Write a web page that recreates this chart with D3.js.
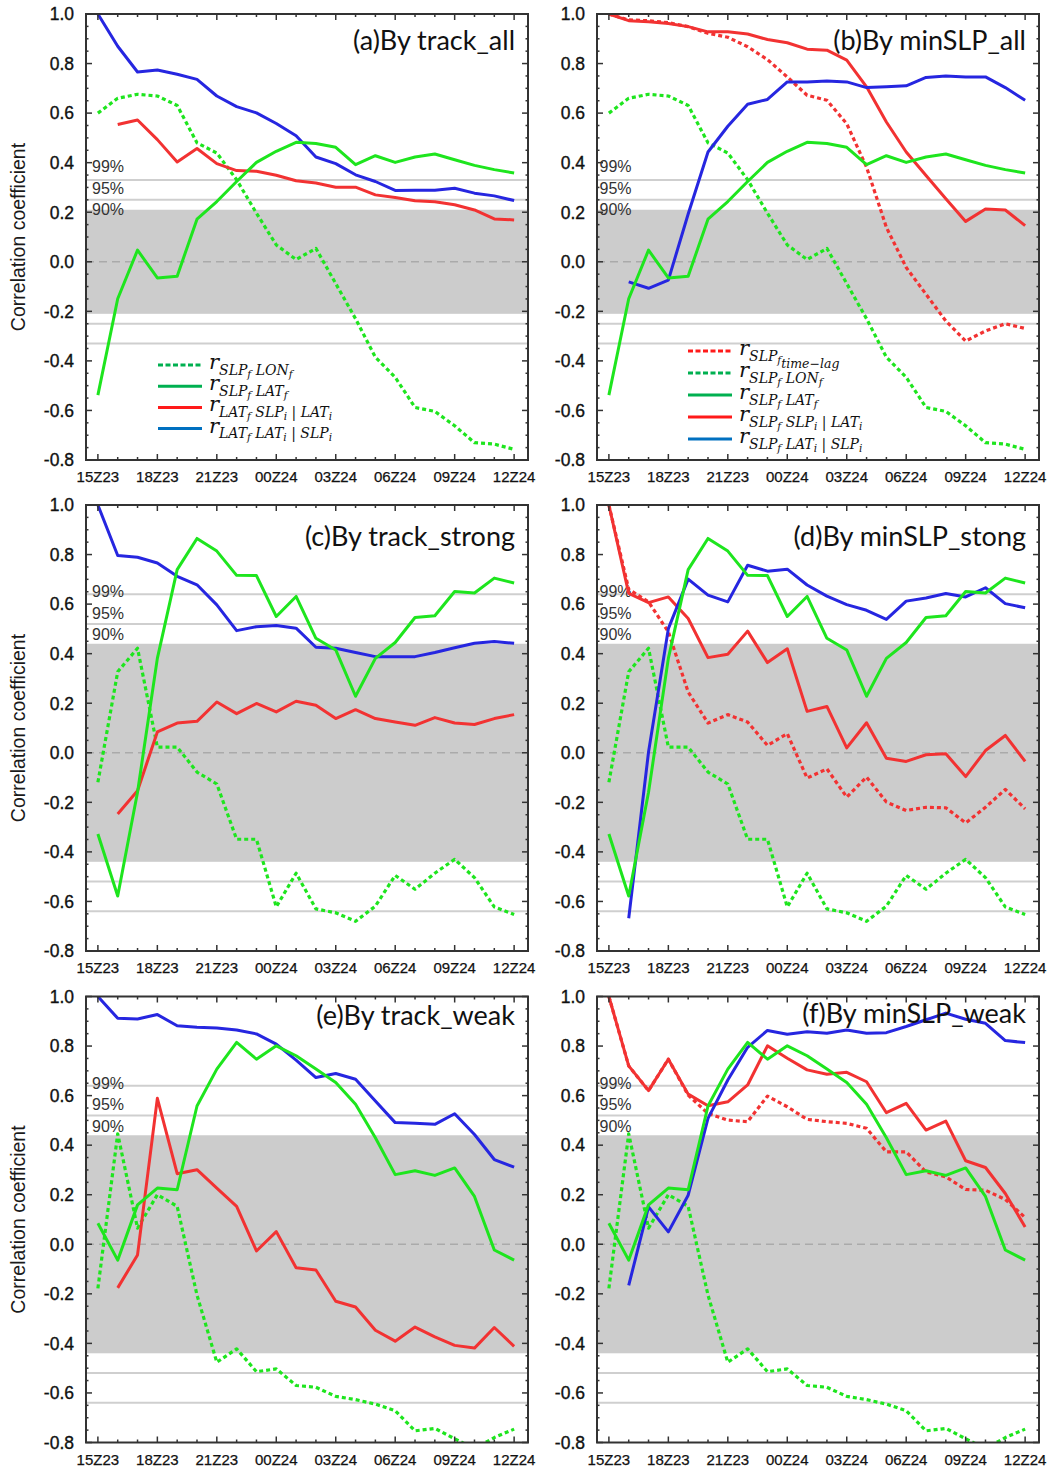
<!DOCTYPE html>
<html>
<head>
<meta charset="utf-8">
<script src="https://cdn.jsdelivr.net/npm/d3@7"></script>
<style>
  body { margin: 0; background: #fff; }
  text { font-family: 'Liberation Sans', Arial, sans-serif; }
</style>
</head>
<body>
<svg id="chart" width="1057" height="1469"></svg>
<script>
// hourly steps from 15Z23 to 12Z24
const hours = ['15Z23', '16Z23', '17Z23', '18Z23', '19Z23', '20Z23', '21Z23', '22Z23', '23Z23',
  '00Z24', '01Z24', '02Z24', '03Z24', '04Z24', '05Z24', '06Z24', '07Z24', '08Z24', '09Z24',
  '10Z24', '11Z24', '12Z24']
const xTickLabels = ['15Z23', '18Z23', '21Z23', '00Z24', '03Z24', '06Z24', '09Z24', '12Z24']
const yTicks = [-0.8, -0.6, -0.4, -0.2, 0, 0.2, 0.4, 0.6, 0.8, 1.0]

// significance thresholds (90%, 95%, 99%)
const sigLabels = ['90%', '95%', '99%']
const sigAll = [0.21, 0.25, 0.33]
const sigSub = [0.44, 0.52, 0.64]

// r(SLPf, LONf) and r(SLPf, LATf), shared by the track and minSLP panels
const lonAll = [0.60, 0.66, 0.676, 0.669, 0.631, 0.48, 0.439, 0.331, 0.196, 0.068, 0.009, 0.054,
  -0.088, -0.23, -0.385, -0.466, -0.588, -0.604, -0.662, -0.73, -0.736, -0.757]
const latAll = [-0.538, -0.149, 0.047, -0.065, -0.058, 0.172, 0.243, 0.324, 0.401, 0.446, 0.482,
  0.477, 0.462, 0.392, 0.428, 0.401, 0.423, 0.435, 0.412, 0.389, 0.372, 0.358]
const lonStrong = [-0.119, 0.327, 0.422, 0.023, 0.023, -0.078, -0.126, -0.349, -0.349, -0.622,
  -0.486, -0.63, -0.646, -0.68, -0.619, -0.495, -0.551, -0.486, -0.43, -0.504, -0.622, -0.653]
const latStrong = [-0.328, -0.578, -0.159, 0.381, 0.739, 0.865, 0.814, 0.716, 0.715, 0.55, 0.631,
  0.462, 0.415, 0.228, 0.381, 0.445, 0.546, 0.553, 0.651, 0.645, 0.705, 0.685]
const lonWeak = [-0.178, 0.446, 0.065, 0.2, 0.153, -0.205, -0.476, -0.422, -0.514, -0.503, -0.57,
  -0.577, -0.614, -0.627, -0.645, -0.672, -0.753, -0.743, -0.785, -0.825, -0.78, -0.746]
const latWeak = [0.085, -0.064, 0.159, 0.227, 0.22, 0.558, 0.707, 0.815, 0.747, 0.801, 0.761,
  0.707, 0.653, 0.565, 0.43, 0.281, 0.297, 0.278, 0.308, 0.193, -0.023, -0.064]

// partial correlations, by track
const trackAllSlp = [null, 0.554, 0.572, 0.493, 0.403, 0.457, 0.396, 0.368, 0.365, 0.349, 0.327,
  0.318, 0.301, 0.301, 0.27, 0.259, 0.246, 0.242, 0.23, 0.209, 0.173, 0.169]
const trackAllLat = [1.0, 0.87, 0.766, 0.774, 0.757, 0.736, 0.669, 0.626, 0.601, 0.558, 0.509,
  0.423, 0.396, 0.351, 0.324, 0.288, 0.289, 0.289, 0.297, 0.277, 0.266, 0.247]
const trackStrongSlp = [null, -0.247, -0.153, 0.084, 0.12, 0.127, 0.205, 0.158, 0.199, 0.165,
  0.208, 0.192, 0.138, 0.174, 0.138, 0.124, 0.111, 0.142, 0.12, 0.114, 0.138, 0.154]
const trackStrongLat = [1.0, 0.796, 0.789, 0.766, 0.712, 0.678, 0.597, 0.493, 0.509, 0.514, 0.503,
  0.426, 0.422, 0.405, 0.388, 0.388, 0.388, 0.405, 0.424, 0.442, 0.449, 0.442]
const trackWeakSlp = [null, -0.176, -0.043, 0.589, 0.285, 0.301, 0.227, 0.153, -0.027, 0.051,
  -0.095, -0.104, -0.23, -0.253, -0.347, -0.391, -0.334, -0.374, -0.408, -0.419, -0.336, -0.412]
const trackWeakLat = [1.0, 0.912, 0.909, 0.927, 0.882, 0.876, 0.873, 0.865, 0.849, 0.808, 0.743,
  0.673, 0.689, 0.666, 0.578, 0.491, 0.488, 0.484, 0.527, 0.443, 0.342, 0.311]

// by minSLP: time-lag autocorrelation and partial correlations
const minAllLag = [1.0, 0.976, 0.973, 0.965, 0.949, 0.922, 0.906, 0.868, 0.816, 0.746, 0.672,
  0.652, 0.557, 0.382, 0.139, -0.023, -0.131, -0.239, -0.32, -0.279, -0.25, -0.269]
const minAllSlp = [1.0, 0.973, 0.969, 0.962, 0.949, 0.928, 0.928, 0.919, 0.897, 0.884, 0.858,
  0.854, 0.814, 0.706, 0.564, 0.443, 0.348, 0.254, 0.163, 0.213, 0.209, 0.146]
const minAllLat = [null, -0.081, -0.107, -0.074, 0.193, 0.443, 0.547, 0.636, 0.655, 0.726, 0.726,
  0.73, 0.726, 0.703, 0.706, 0.71, 0.744, 0.75, 0.746, 0.746, 0.703, 0.652]
const minStrongLag = [1.0, 0.66, 0.609, 0.488, 0.245, 0.12, 0.154, 0.124, 0.03, 0.077, -0.102,
  -0.065, -0.179, -0.098, -0.199, -0.233, -0.22, -0.222, -0.283, -0.22, -0.148, -0.226]
const minStrongSlp = [1.0, 0.643, 0.606, 0.629, 0.542, 0.384, 0.398, 0.491, 0.364, 0.42, 0.167,
  0.187, 0.02, 0.121, -0.022, -0.035, -0.008, -0.004, -0.096, 0.009, 0.07, -0.035]
const minStrongLat = [null, -0.668, 0.003, 0.501, 0.701, 0.636, 0.609, 0.757, 0.733, 0.741, 0.677,
  0.632, 0.598, 0.575, 0.538, 0.612, 0.625, 0.643, 0.629, 0.666, 0.602, 0.585]
const minWeakLag = [1.0, 0.72, 0.62, 0.747, 0.602, 0.528, 0.501, 0.495, 0.598, 0.555, 0.504,
  0.495, 0.488, 0.468, 0.373, 0.373, 0.292, 0.272, 0.221, 0.218, 0.181, 0.108]
const minWeakSlp = [1.0, 0.72, 0.62, 0.747, 0.606, 0.559, 0.575, 0.643, 0.801, 0.751, 0.704,
  0.686, 0.694, 0.656, 0.531, 0.569, 0.461, 0.497, 0.337, 0.31, 0.205, 0.07]
const minWeakLat = [null, -0.166, 0.151, 0.05, 0.198, 0.508, 0.663, 0.795, 0.863, 0.848, 0.858,
  0.852, 0.865, 0.852, 0.854, 0.879, 0.906, 0.933, 0.908, 0.892, 0.822, 0.814]

// legend entries: subscript pieces [text, level]
const legendTrack = [
  [['SLP', 1], ['f', 2], [' LON', 1], ['f', 2]],
  [['SLP', 1], ['f', 2], [' LAT', 1], ['f', 2]],
  [['LAT', 1], ['f', 2], [' SLP', 1], ['i', 2], [' | LAT', 1], ['i', 2]],
  [['LAT', 1], ['f', 2], [' LAT', 1], ['i', 2], [' | SLP', 1], ['i', 2]],
]
const legendMin = [
  [['SLP', 1], ['f', 2], ['time\u2212lag', 3]],
  [['SLP', 1], ['f', 2], [' LON', 1], ['f', 2]],
  [['SLP', 1], ['f', 2], [' LAT', 1], ['f', 2]],
  [['SLP', 1], ['f', 2], [' SLP', 1], ['i', 2], [' | LAT', 1], ['i', 2]],
  [['SLP', 1], ['f', 2], [' LAT', 1], ['i', 2], [' | SLP', 1], ['i', 2]],
]

const green = '#1ee51e'
const red = '#f23232'
const blue = '#2626e0'
const legGreen = '#00b050'
const legRed = '#ff1a1a'
const legBlue = '#0070c0'

const panels = [
  {title: '(a)By track_all', col: 0, row: 0, sig: sigAll, titleDy: 36,
    series: [{v: lonAll, c: green, d: true}, {v: trackAllSlp, c: red}, {v: trackAllLat, c: blue}, {v: latAll, c: green}],
    legend: {items: legendTrack, colors: [legGreen, legGreen, legRed, legBlue], dash: [true, false, false, false],
      x: 158, y: 365, step: 21.2}},
  {title: '(b)By minSLP_all', col: 1, row: 0, sig: sigAll, titleDy: 36,
    series: [{v: lonAll, c: green, d: true}, {v: minAllLag, c: red, d: true}, {v: minAllSlp, c: red}, {v: minAllLat, c: blue}, {v: latAll, c: green}],
    legend: {items: legendMin, colors: [legRed, legGreen, legGreen, legRed, legBlue], dash: [true, true, false, false, false],
      x: 688, y: 351, step: 22}},
  {title: '(c)By track_strong', col: 0, row: 1, sig: sigSub, titleDy: 41,
    series: [{v: lonStrong, c: green, d: true}, {v: trackStrongSlp, c: red}, {v: trackStrongLat, c: blue}, {v: latStrong, c: green}]},
  {title: '(d)By minSLP_stong', col: 1, row: 1, sig: sigSub, titleDy: 41,
    series: [{v: lonStrong, c: green, d: true}, {v: minStrongLag, c: red, d: true}, {v: minStrongSlp, c: red}, {v: minStrongLat, c: blue}, {v: latStrong, c: green}]},
  {title: '(e)By track_weak', col: 0, row: 2, sig: sigSub, titleDy: 28,
    series: [{v: lonWeak, c: green, d: true}, {v: trackWeakSlp, c: red}, {v: trackWeakLat, c: blue}, {v: latWeak, c: green}]},
  {title: '(f)By minSLP_weak', col: 1, row: 2, sig: sigSub, titleDy: 26,
    series: [{v: lonWeak, c: green, d: true}, {v: minWeakLag, c: red, d: true}, {v: minWeakSlp, c: red}, {v: minWeakLat, c: blue}, {v: latWeak, c: green}]},
]

// layout of the 3x2 grid
const colLeft = [86, 597]
const plotW = 442
const rowTop = [14, 505, 996.5]
const plotH = 446

const svg = d3.select('#chart')
svg.append('rect').attr('width', 1057).attr('height', 1469).attr('fill', '#fff')
const defs = svg.append('defs')

const subSize = {0: 21, 1: 14, 2: 10.5, 3: 12.5}
const subShift = {0: 4, 1: 9.5, 2: 12.5, 3: 17}
// plain hyphen for negative tick values, like the original
const fmtTick = v => (Math.abs(v) < 1e-9 ? 0 : v).toFixed(1)

panels.forEach((p, pi) => {
  const x0 = colLeft[p.col]
  const y0 = rowTop[p.row]
  const x = d3.scaleLinear().domain([-0.6, 21.7]).range([x0, x0 + plotW])
  const y = d3.scaleLinear().domain([-0.8, 1.0]).range([y0 + plotH, y0])
  const g = svg.append('g')

  defs.append('clipPath').attr('id', 'clip' + pi)
    .append('rect').attr('x', x0).attr('y', y0).attr('width', plotW).attr('height', plotH)

  // 90% shading and the 95% / 99% lines
  const [t90, t95, t99] = p.sig
  g.append('rect')
    .attr('x', x0).attr('width', plotW)
    .attr('y', y(t90)).attr('height', y(-t90) - y(t90))
    .attr('fill', '#cccccc')
  ;[t95, t99, -t95, -t99].forEach(t => {
    g.append('line')
      .attr('x1', x0).attr('x2', x0 + plotW)
      .attr('y1', y(t)).attr('y2', y(t))
      .attr('stroke', '#cfcfcf').attr('stroke-width', 2)
  })
  g.append('line')
    .attr('x1', x0).attr('x2', x0 + plotW)
    .attr('y1', y(0)).attr('y2', y(0))
    .attr('stroke', '#aaaaaa').attr('stroke-width', 1.5).attr('stroke-dasharray', '8,5')

  // percentage labels stacked above the 90% band edge
  const base = y(t90) + (p.row === 0 ? 5.5 : -3.5)
  sigLabels.forEach((s, i) => {
    g.append('text')
      .attr('x', x0 + (p.col === 0 ? 6 : 2.5))
      .attr('y', base - i * 21.5)
      .attr('font-size', 16).attr('fill', '#333')
      .text(s)
  })

  // data lines
  const line = d3.line()
    .defined(d => d != null)
    .x((d, i) => x(i))
    .y(d => y(d))
  const lines = g.append('g').attr('clip-path', `url(#clip${pi})`)
  p.series.forEach(s => {
    lines.append('path')
      .attr('d', line(s.v))
      .attr('fill', 'none')
      .attr('stroke', s.c)
      .attr('stroke-width', s.d ? 3.2 : 3)
      .attr('stroke-dasharray', s.d ? '4,3' : null)
      .attr('stroke-linejoin', 'round')
  })

  // frame and ticks
  g.append('rect')
    .attr('x', x0).attr('y', y0).attr('width', plotW).attr('height', plotH)
    .attr('fill', 'none').attr('stroke', '#333').attr('stroke-width', 2)
  const ticks = g.append('g').attr('stroke', '#333')
  d3.range(hours.length).forEach(i => {
    const len = i % 3 === 0 ? 6 : 3
    ticks.append('line').attr('x1', x(i)).attr('x2', x(i)).attr('y1', y0 + plotH).attr('y2', y0 + plotH - len).attr('stroke-width', 1.5)
    ticks.append('line').attr('x1', x(i)).attr('x2', x(i)).attr('y1', y0).attr('y2', y0 + len).attr('stroke-width', 1.5)
  })
  d3.range(-0.8, 1.0001, 0.05).forEach(v => {
    const major = Math.abs(Math.round(v * 10) % 2) === 0 && Math.abs(v * 10 - Math.round(v * 10)) < 1e-6
    const len = major ? 6 : 2.5
    ticks.append('line').attr('x1', x0).attr('x2', x0 + len).attr('y1', y(v)).attr('y2', y(v)).attr('stroke-width', 1.5)
    ticks.append('line').attr('x1', x0 + plotW).attr('x2', x0 + plotW - len).attr('y1', y(v)).attr('y2', y(v)).attr('stroke-width', 1.5)
  })

  // tick labels
  yTicks.forEach(v => {
    g.append('text')
      .attr('x', x0 - 12).attr('y', y(v)).attr('dy', '0.36em')
      .attr('text-anchor', 'end').attr('font-size', 17.5).attr('fill', '#111')
      .attr('stroke', '#111').attr('stroke-width', 0.35)
      .text(fmtTick(v))
  })
  xTickLabels.forEach(lab => {
    g.append('text')
      .attr('x', x(hours.indexOf(lab))).attr('y', y0 + plotH + 22)
      .attr('text-anchor', 'middle').attr('font-size', 15).attr('fill', '#111')
      .attr('stroke', '#111').attr('stroke-width', 0.25)
      .text(lab)
  })
  if (p.col === 0) {
    g.append('text')
      .attr('transform', `translate(${25},${y0 + plotH / 2}) rotate(-90)`)
      .attr('text-anchor', 'middle').attr('font-size', 19.5).attr('fill', '#1a1a1a')
      .text('Correlation coefficient')
  }

  // panel title
  g.append('text')
    .attr('x', x0 + plotW - 13).attr('y', y0 + p.titleDy)
    .attr('text-anchor', 'end')
    .style('font-family', 'Lato, "Open Sans", sans-serif')
    .attr('font-size', 27).attr('fill', '#111')
    .text(p.title)

  // legend
  if (p.legend) {
    const L = p.legend
    L.items.forEach((parts, i) => {
      const ly = L.y + i * L.step
      g.append('line')
        .attr('x1', L.x).attr('x2', L.x + 44).attr('y1', ly).attr('y2', ly)
        .attr('stroke', L.colors[i]).attr('stroke-width', 3)
        .attr('stroke-dasharray', L.dash[i] ? '5,2.5' : null)
      const t = g.append('text')
        .attr('x', L.x + 51).attr('y', ly + subShift[0])
        .style('font-family', '"DejaVu Serif", serif').style('font-style', 'italic')
        .attr('fill', '#111')
      t.append('tspan').attr('font-size', subSize[0]).text('r')
      parts.forEach(([txt, lvl]) => {
        t.append('tspan')
          .attr('y', ly + subShift[lvl])
          .attr('font-size', subSize[lvl])
          .text(txt.replace(/ /g, '\u00a0'))
      })
    })
  }
})
</script>
</body>
</html>
